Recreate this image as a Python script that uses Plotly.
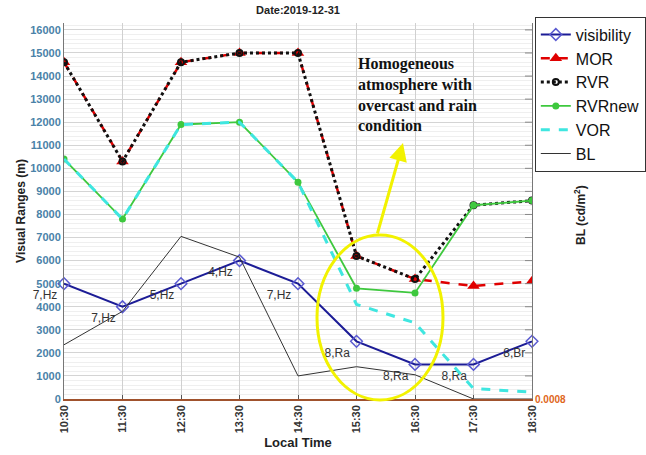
import plotly.graph_objects as go

times = ["10:30", "11:30", "12:30", "13:30", "14:30", "15:30", "16:30", "17:30", "18:30"]
visibility = [5000, 4000, 5000, 6000, 5000, 2500, 1500, 1500, 2500]
vis_labels = ["7,Hz", "7,Hz", "5,Hz", "4,Hz", "7,Hz", "8,Ra", "8,Ra", "8,Ra", "8,Br"]
mor = [14600, 10300, 14600, 15000, 15000, 6200, 5200, 4900, 5100]
rvr = [14600, 10300, 14600, 15000, 15000, 6200, 5200, 8400, 8600]
rvr_new = [10400, 7800, 11900, 12000, 9400, 4800, 4600, 8400, 8600]
vor = [10400, 7800, 11900, 12000, 9400, 4100, 3300, 450, 300]
bl = [2350, 3800, 7050, 6150, 1000, 1400, 1050, 0, 0]

L, R, T, B = 64, 114, 23, 56
W, H = 646, 455
pw, ph = W - L - R, H - T - B
YMAX = 16300
XS = pw / 8.0
YS = ph / YMAX

fig = go.Figure()
fig.add_trace(go.Scatter(x=times, y=visibility, name="visibility", mode="lines+markers+text",
                         line=dict(color="#1c1c96", width=2),
                         marker=dict(symbol="diamond-open", size=9, color="#5a5ad0", line=dict(width=1.5)),
                         text=vis_labels, textposition="bottom left", cliponaxis=False,
                         textfont=dict(family="Arial", size=12, color="#333333")))
fig.add_trace(go.Scatter(x=times, y=mor, name="MOR", mode="lines+markers",
                         line=dict(color="#e00000", width=2.5, dash="dash"),
                         marker=dict(symbol="triangle-up", size=11, color="#e00000")))
fig.add_trace(go.Scatter(x=times, y=rvr, name="RVR", mode="lines+markers",
                         line=dict(color="#111111", width=3, dash="dot"),
                         marker=dict(symbol="circle-open", size=6, color="#111111", line=dict(width=2))))
fig.add_trace(go.Scatter(x=times, y=rvr_new, name="RVRnew", mode="lines+markers",
                         line=dict(color="#3ec83e", width=1.8),
                         marker=dict(symbol="circle", size=7, color="#3ec83e")))
fig.add_trace(go.Scatter(x=times, y=vor, name="VOR", mode="lines",
                         line=dict(color="#3fe6e0", width=3, dash="dash")))
fig.add_trace(go.Scatter(x=times, y=bl, name="BL", mode="lines", yaxis="y2",
                         line=dict(color="#333333", width=1)))

fig.update_layout(
    width=W, height=H,
    margin=dict(l=L, r=R, t=T, b=B, pad=0, autoexpand=False),
    paper_bgcolor="white", plot_bgcolor="white",
    font=dict(family="Arial", color="#222222"),
    showlegend=True,
    legend=dict(x=1.006, y=1.017, xanchor="left", yanchor="top",
                bordercolor="#333333", borderwidth=1, bgcolor="white",
                font=dict(family="Arial", size=16, color="#111111"),
                tracegroupgap=0, itemwidth=30),
    xaxis=dict(type="category", range=[0, 8], showgrid=True, gridcolor="#d0d0d0", gridwidth=1,
               tickangle=-90, tickfont=dict(family="Arial", size=11, color="#333333", weight="bold"),
               ticks="inside", ticklen=4, tickcolor="#555555",
               showline=True, linecolor="#a0522d", linewidth=1.5, mirror=False,
               title=dict(text="Local Time", font=dict(family="Arial", size=13, color="#222222", weight="bold"),
                          standoff=6),
               zeroline=False),
    yaxis=dict(range=[0, YMAX], dtick=1000, tickformat="d", showgrid=True, gridcolor="#d4d4d4", gridwidth=1,
               minor=dict(dtick=200, showgrid=True, gridcolor="#efefef", gridwidth=1),
               tickfont=dict(family="Arial", size=11, color="#4a82a8", weight="bold"),
               ticks="", showline=True, linecolor="#777777", linewidth=1, zeroline=False,
               title=dict(text="Visual Ranges (m)", font=dict(family="Arial", size=12, color="#222222", weight="bold"),
                          standoff=2)),
    yaxis2=dict(overlaying="y", side="right", range=[0, YMAX], tickvals=[0], ticktext=["0.0008"],
                tickfont=dict(family="Arial", size=10, color="#e0661a", weight="bold"),
                showgrid=False, zeroline=False, showline=True, linecolor="#777777", linewidth=1,
                ticks=""),
    title=dict(text="Date:2019-12-31", x=(L + pw / 2) / W, xanchor="center", y=1 - 10 / H, yanchor="middle",
               font=dict(family="Arial", size=11, color="#222222", weight="bold")),
)

# right axis tick marks (inside)
for k in range(1, 17):
    fig.add_shape(type="line", xref="paper", yref="y", x0=0.985, x1=1.0, y0=k * 1000, y1=k * 1000,
                  line=dict(color="#888888", width=1))

# right axis title
fig.add_annotation(text="BL (cd/m<sup>2</sup>)", xref="paper", yref="paper",
                   x=(590 - L) / pw, y=(H - B - 215) / ph, textangle=-90, showarrow=False,
                   font=dict(family="Arial", size=12, color="#222222", weight="bold"))

# yellow ellipse
fig.add_shape(type="circle", xref="paper", yref="paper",
              x0=(317 - L) / pw, x1=(443 - L) / pw, y0=(H - B - 400) / ph, y1=(H - B - 235) / ph,
              line=dict(color="#f2f200", width=3))

# yellow arrow
fig.add_annotation(x=(403 - L) / pw, y=(H - B - 143) / ph, ax=377 - 403, ay=235 - 143,
                   xref="paper", yref="paper", text="", showarrow=True,
                   arrowhead=2, arrowsize=1.2, arrowwidth=3, arrowcolor="#f2f200")

# annotation text
fig.add_annotation(text="Homogeneous<br>atmosphere with<br>overcast and rain<br>condition",
                   xref="paper", yref="paper", x=(356 - L) / pw, y=(H - B - 53) / ph,
                   xanchor="left", yanchor="top", align="left", showarrow=False,
                   font=dict(family="Liberation Serif", size=16, color="#111111", weight="bold"))

fig.write_html("out.html")
